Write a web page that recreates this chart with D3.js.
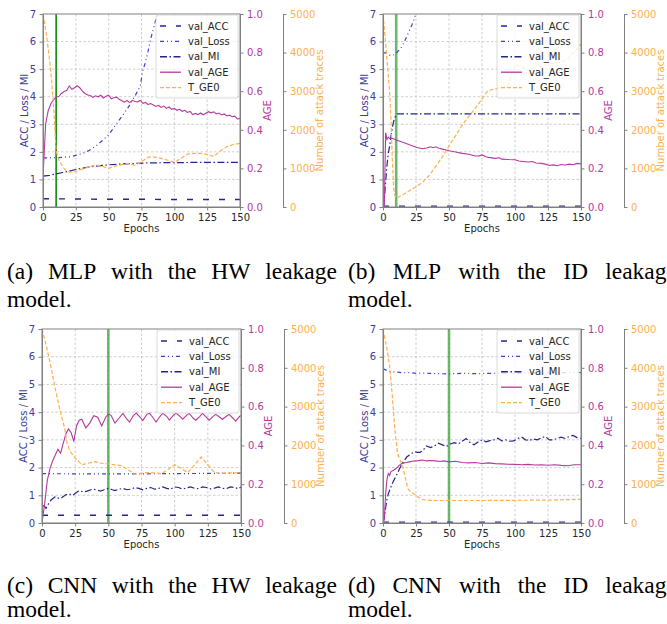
<!DOCTYPE html>
<html>
<head>
<meta charset="utf-8">
<script src="https://cdn.jsdelivr.net/npm/d3@7"></script>
<style>
  body { margin: 0; background: #fff; }
  svg { display: block; }
  .caption { font-family: "Liberation Serif", "Times New Roman", Times, serif; font-size: 23.5px; }
</style>
</head>
<body>
<div id="container"></div>
<script>
/**
 * CONSTANTS
 * */
const width = 667,
  height = 624;

// ticks and labels
const epochTicks = [0, 25, 50, 75, 100, 125, 150];
const leftTicks = [0, 1, 2, 3, 4, 5, 6, 7];
const ageTicks = [0, 0.2, 0.4, 0.6, 0.8, 1.0];
const traceTicks = [0, 1000, 2000, 3000, 4000, 5000];
const seriesNames = ["val_ACC", "val_Loss", "val_MI", "val_AGE", "T_GE0"];
const captionTexts = [
  ["(a) MLP with the HW leakage", "model."],
  ["(b) MLP with the ID leakage", "model."],
  ["(c) CNN with the HW leakage", "model."],
  ["(d) CNN with the ID leakage", "model."]
];
const bestEpochs = [10, 10, 50, 50];

/**
 * DATA  ([epoch, value])
 * */
// (a) MLP, HW
const mlpHwAcc = [[0, 0.3], [25, 0.29], [50, 0.28], [75, 0.28], [100, 0.27], [125, 0.27], [150, 0.27]];
const mlpHwLoss = [[0, 1.78], [5, 1.78], [10, 1.79], [15, 1.8], [20, 1.82], [25, 1.87], [30, 1.94], [35, 2.05], [40, 2.2], [45, 2.4], [50, 2.62], [55, 2.95], [60, 3.28], [65, 3.62], [70, 4.02], [74, 4.38], [76, 4.95], [78, 5.25], [80, 5.65], [82, 6.1], [84, 6.45], [86, 6.82], [88, 7.05], [90, 7.4]];
const mlpHwMi = [[0, 1.12], [5, 1.15], [10, 1.2], [15, 1.25], [20, 1.3], [25, 1.36], [30, 1.41], [35, 1.45], [40, 1.48], [50, 1.53], [60, 1.56], [70, 1.58], [80, 1.6], [100, 1.61], [125, 1.62], [150, 1.62]];
const mlpHwAge = [[0, 0.155], [2, 0.43], [4, 0.5], [6, 0.535], [8, 0.555], [10, 0.57], [12, 0.572], [14, 0.588], [16, 0.598], [18, 0.603], [20, 0.627], [22, 0.61], [24, 0.618], [26, 0.628], [28, 0.618], [30, 0.6], [32, 0.588], [34, 0.58], [36, 0.578], [38, 0.568], [40, 0.576], [42, 0.571], [44, 0.579], [46, 0.565], [48, 0.574], [50, 0.58], [52, 0.561], [54, 0.566], [56, 0.569], [58, 0.558], [60, 0.551], [62, 0.543], [64, 0.552], [66, 0.541], [68, 0.553], [70, 0.547], [72, 0.545], [74, 0.552], [76, 0.537], [78, 0.542], [80, 0.531], [82, 0.536], [84, 0.528], [86, 0.521], [88, 0.526], [90, 0.516], [92, 0.523], [94, 0.511], [96, 0.518], [98, 0.506], [100, 0.511], [102, 0.501], [104, 0.506], [106, 0.496], [108, 0.501], [110, 0.49], [112, 0.495], [114, 0.479], [116, 0.485], [118, 0.479], [120, 0.487], [122, 0.478], [124, 0.486], [126, 0.494], [128, 0.488], [130, 0.493], [132, 0.482], [134, 0.487], [136, 0.477], [138, 0.482], [140, 0.472], [142, 0.476], [144, 0.468], [146, 0.471], [148, 0.456], [150, 0.458]];
const mlpHwGe0 = [[0, 5000], [2, 4600], [4, 4100], [6, 3500], [8, 2650], [9, 2050], [10, 1450], [12, 1230], [15, 1040], [18, 930], [20, 900], [25, 920], [30, 980], [35, 1040], [40, 1080], [45, 1060], [50, 1000], [55, 1060], [60, 1100], [65, 1130], [70, 1080], [75, 1170], [80, 1290], [85, 1290], [90, 1260], [95, 1210], [100, 1160], [105, 1260], [110, 1370], [115, 1390], [120, 1390], [125, 1360], [130, 1310], [135, 1450], [140, 1560], [145, 1620], [150, 1650]];

// (b) MLP, ID
const mlpIdAcc = [[0, 0.03], [150, 0.03]];
const mlpIdLoss = [[0, 5.6], [3, 5.58], [6, 5.48], [8, 5.52], [10, 5.58], [12, 5.68], [14, 5.8], [16, 5.98], [18, 6.18], [20, 6.4], [22, 6.62], [24, 6.88], [26, 7.15]];
const mlpIdMi = [[0, 0], [1, 0.3], [2, 0.9], [3, 1.5], [4, 1.95], [5, 2.2], [6, 2.55], [7, 2.85], [8, 3.1], [9, 3.25], [10, 3.33], [11, 3.38], [50, 3.38], [100, 3.38], [150, 3.38]];
const mlpIdAge = [[0, 0], [1, 0.0], [2, 0.385], [3, 0.35], [4, 0.362], [5, 0.355], [7, 0.356], [10, 0.347], [15, 0.335], [20, 0.322], [25, 0.31], [30, 0.302], [33, 0.306], [36, 0.312], [38, 0.307], [40, 0.312], [42, 0.306], [45, 0.3], [50, 0.291], [55, 0.285], [60, 0.278], [65, 0.273], [70, 0.264], [73, 0.265], [75, 0.27], [78, 0.26], [80, 0.257], [85, 0.252], [88, 0.255], [90, 0.248], [95, 0.246], [100, 0.245], [103, 0.238], [106, 0.236], [110, 0.233], [113, 0.236], [116, 0.228], [120, 0.226], [123, 0.222], [126, 0.215], [129, 0.218], [132, 0.214], [135, 0.22], [138, 0.218], [141, 0.222], [144, 0.219], [147, 0.226], [150, 0.224]];
const mlpIdGe0 = [[0, 5000], [2, 4250], [4, 3400], [5, 3000], [6, 2300], [7, 1300], [8, 500], [9, 300], [10, 230], [12, 260], [15, 320], [20, 420], [25, 520], [30, 640], [35, 820], [40, 1050], [45, 1300], [50, 1580], [55, 1850], [60, 2120], [65, 2350], [70, 2560], [75, 2800], [78, 2950], [80, 3020], [85, 3060], [90, 3090], [95, 3160], [98, 3500], [100, 3680], [105, 3640], [110, 3540], [115, 3600], [120, 3650], [125, 3700], [130, 3730], [135, 3760], [140, 3840], [145, 4020], [150, 4220]];

// (c) CNN, HW
const cnnHwAcc = [[0, 0.28], [150, 0.28]];
const cnnHwLoss = [[0, 1.78], [50, 1.77], [100, 1.78], [150, 1.8]];
const cnnHwMi = [[0, 0.65], [2, 0.6], [3, 0.53], [5, 0.7], [7, 0.84], [10, 0.95], [13, 0.88], [15, 0.92], [18, 1.02], [20, 1.06], [23, 1.0], [26, 1.1], [28, 1.17], [31, 1.12], [34, 1.15], [38, 1.22], [41, 1.2], [44, 1.15], [47, 1.2], [50, 1.25], [53, 1.2], [55, 1.17], [58, 1.22], [61, 1.25], [64, 1.2], [67, 1.22], [70, 1.28], [73, 1.25], [76, 1.2], [79, 1.25], [82, 1.28], [85, 1.22], [88, 1.25], [91, 1.3], [94, 1.25], [97, 1.22], [100, 1.3], [103, 1.28], [106, 1.22], [109, 1.27], [112, 1.3], [115, 1.25], [118, 1.24], [121, 1.3], [124, 1.28], [127, 1.23], [130, 1.26], [133, 1.3], [136, 1.25], [139, 1.24], [142, 1.3], [145, 1.28], [148, 1.24], [150, 1.3]];
const cnnHwAge = [[0, 0], [2, 0.1], [4, 0.22], [6, 0.28], [8, 0.32], [10, 0.35], [12, 0.38], [14, 0.36], [16, 0.41], [18, 0.46], [20, 0.485], [22, 0.465], [24, 0.42], [26, 0.5], [28, 0.53], [30, 0.535], [33, 0.49], [36, 0.515], [39, 0.553], [42, 0.545], [45, 0.5], [48, 0.545], [50, 0.562], [52, 0.555], [55, 0.515], [58, 0.54], [61, 0.565], [64, 0.535], [66, 0.52], [69, 0.555], [71, 0.567], [74, 0.545], [76, 0.528], [79, 0.56], [81, 0.566], [84, 0.54], [86, 0.52], [89, 0.55], [91, 0.566], [94, 0.55], [96, 0.53], [99, 0.555], [101, 0.567], [104, 0.55], [106, 0.535], [109, 0.555], [111, 0.565], [114, 0.54], [116, 0.53], [119, 0.55], [121, 0.565], [124, 0.545], [126, 0.53], [129, 0.55], [131, 0.56], [134, 0.545], [136, 0.535], [139, 0.55], [141, 0.56], [144, 0.54], [146, 0.525], [149, 0.55], [150, 0.553]];
const cnnHwGe0 = [[0, 5000], [3, 4600], [6, 4150], [10, 3450], [14, 2850], [17, 2450], [19, 2050], [21, 1850], [25, 1680], [30, 1500], [35, 1540], [40, 1580], [45, 1540], [50, 1520], [55, 1500], [60, 1480], [65, 1370], [70, 1260], [75, 1280], [80, 1300], [85, 1290], [90, 1270], [95, 1380], [100, 1500], [105, 1400], [110, 1300], [115, 1500], [120, 1700], [125, 1500], [130, 1300], [135, 1280], [140, 1290], [145, 1290], [150, 1290]];

// (d) CNN, ID
const cnnIdAcc = [[0, 0.03], [150, 0.03]];
const cnnIdLoss = [[0, 5.57], [3, 5.5], [6, 5.45], [10, 5.45], [15, 5.42], [20, 5.43], [25, 5.4], [30, 5.41], [40, 5.39], [50, 5.38], [60, 5.4], [70, 5.39], [80, 5.4], [90, 5.41], [100, 5.4], [110, 5.42], [120, 5.41], [130, 5.42], [140, 5.43], [150, 5.43]];
const cnnIdMi = [[0, 0], [1, 0.2], [2, 0.55], [3, 0.85], [4, 1.05], [6, 1.3], [8, 1.52], [10, 1.7], [12, 1.9], [14, 2.1], [16, 2.25], [18, 2.38], [20, 2.45], [22, 2.52], [24, 2.57], [26, 2.55], [28, 2.55], [30, 2.6], [33, 2.78], [36, 2.72], [39, 2.78], [42, 2.88], [45, 2.82], [48, 2.76], [51, 2.85], [54, 2.9], [57, 2.85], [60, 2.95], [63, 3.05], [66, 2.9], [69, 2.82], [72, 2.92], [75, 3.0], [78, 2.93], [81, 2.97], [84, 3.0], [87, 3.06], [90, 2.96], [93, 3.0], [96, 2.95], [99, 2.96], [102, 3.05], [105, 3.1], [108, 3.0], [111, 2.98], [114, 3.03], [117, 3.0], [120, 3.08], [123, 3.12], [126, 3.0], [129, 3.0], [132, 3.05], [135, 3.1], [138, 3.05], [141, 3.12], [144, 3.16], [147, 3.08], [150, 3.05]];
const cnnIdAge = [[0, 0], [1, 0.02], [2, 0.15], [3, 0.225], [4, 0.255], [5, 0.245], [6, 0.265], [8, 0.272], [10, 0.282], [12, 0.296], [14, 0.305], [16, 0.31], [18, 0.312], [20, 0.315], [22, 0.318], [25, 0.32], [28, 0.323], [30, 0.325], [33, 0.32], [36, 0.322], [40, 0.32], [43, 0.317], [46, 0.32], [50, 0.315], [55, 0.318], [60, 0.312], [65, 0.31], [70, 0.312], [75, 0.307], [80, 0.31], [85, 0.306], [90, 0.305], [95, 0.303], [100, 0.302], [105, 0.3], [110, 0.302], [115, 0.299], [120, 0.3], [125, 0.298], [130, 0.3], [135, 0.297], [140, 0.295], [145, 0.3], [150, 0.3]];
const cnnIdGe0 = [[0, 5000], [3, 4500], [5, 4050], [7, 3300], [9, 2400], [11, 1800], [13, 1620], [15, 1450], [17, 1150], [19, 880], [21, 800], [24, 740], [27, 660], [30, 600], [35, 585], [40, 580], [50, 580], [75, 580], [100, 585], [125, 590], [150, 610]];

/**
 * STYLES
 * */
const fontSans = "DejaVu Sans";
const spineColor = "#808080";
const leftColor = "#3b3b9c";
const ageColor = "#b4399f";
const traceColor = "#ffaf4c";
const styles = {
  val_ACC: { color: "#24248e", dash: "6,10", width: 1.4, axis: "left" },
  val_Loss: { color: "#4040c8", dash: "4,3,1,3,1,3", width: 1.2, axis: "left" },
  val_MI: { color: "#25258f", dash: "7,2.5,1.5,2.5", width: 1.2, axis: "left" },
  val_AGE: { color: ageColor, dash: null, width: 1.1, axis: "age" },
  T_GE0: { color: traceColor, dash: "4,2", width: 1.2, axis: "traces" }
};

// panel frames (layout only)
const panels = [
  { key: "a", x0: 43, x1: 240, y0: 14, y1: 207, capX: [7, 337], capY: [279, 307], strong: true,
    series: [mlpHwAcc, mlpHwLoss, mlpHwMi, mlpHwAge, mlpHwGe0] },
  { key: "b", x0: 383, x1: 581, y0: 14, y1: 207, capX: [348, 677], capY: [279, 307], strong: false,
    series: [mlpIdAcc, mlpIdLoss, mlpIdMi, mlpIdAge, mlpIdGe0] },
  { key: "c", x0: 42, x1: 241, y0: 329, y1: 523, capX: [7, 337], capY: [593, 617], strong: false,
    series: [cnnHwAcc, cnnHwLoss, cnnHwMi, cnnHwAge, cnnHwGe0] },
  { key: "d", x0: 383, x1: 581, y0: 329, y1: 523, capX: [348, 677], capY: [593, 617], strong: false,
    series: [cnnIdAcc, cnnIdLoss, cnnIdMi, cnnIdAge, cnnIdGe0] }
];

const svg = d3.select("#container")
  .append("svg")
  .attr("width", width)
  .attr("height", height);

panels.forEach((p, i) => drawPanel(p, i));

function styleAxis(sel, color) {
  sel.attr("font-family", fontSans).attr("font-size", 10);
  sel.select(".domain").attr("stroke", spineColor);
  sel.selectAll(".tick line").attr("stroke", spineColor);
  sel.selectAll(".tick text").attr("fill", color);
}

function drawPanel(p, i) {
  const g = svg.append("g");
  const x = d3.scaleLinear().domain([0, 150]).range([p.x0, p.x1]);
  const scales = {
    left: d3.scaleLinear().domain([0, 7]).range([p.y1, p.y0]),
    age: d3.scaleLinear().domain([0, 1]).range([p.y1, p.y0]),
    traces: d3.scaleLinear().domain([0, 5000]).range([p.y1, p.y0])
  };

  // grid
  g.append("g").selectAll("line").data(epochTicks.slice(1, -1)).join("line")
    .attr("x1", d => x(d)).attr("x2", d => x(d))
    .attr("y1", p.y0).attr("y2", p.y1);
  g.append("g").selectAll("line").data(leftTicks.slice(1, -1)).join("line")
    .attr("x1", p.x0).attr("x2", p.x1)
    .attr("y1", d => scales.left(d)).attr("y2", d => scales.left(d));
  g.selectAll("g line")
    .attr("stroke", "#b8b8b8").attr("stroke-width", 0.7).attr("stroke-dasharray", "2.5,2");

  // clip
  const clipId = "clip-" + p.key;
  g.append("clipPath").attr("id", clipId)
    .append("rect")
    .attr("x", p.x0).attr("y", p.y0)
    .attr("width", p.x1 - p.x0).attr("height", p.y1 - p.y0);

  const lines = g.append("g").attr("clip-path", `url(#${clipId})`);

  // best epoch marker
  lines.append("line")
    .attr("x1", x(bestEpochs[i])).attr("x2", x(bestEpochs[i]))
    .attr("y1", p.y0).attr("y2", p.y1)
    .attr("stroke", p.strong ? "#008000" : "#2e9a2e")
    .attr("stroke-opacity", p.strong ? 1 : 0.7)
    .attr("stroke-width", p.strong ? 1.5 : 2.6);

  seriesNames.forEach((name, k) => {
    const st = styles[name];
    const y = scales[st.axis];
    const line = d3.line().x(d => x(d[0])).y(d => y(d[1]));
    lines.append("path")
      .datum(p.series[k])
      .attr("d", line)
      .attr("fill", "none")
      .attr("stroke", st.color)
      .attr("stroke-width", st.width)
      .attr("stroke-dasharray", st.dash);
  });

  // spines
  g.append("rect")
    .attr("x", p.x0).attr("y", p.y0)
    .attr("width", p.x1 - p.x0).attr("height", p.y1 - p.y0)
    .attr("fill", "none").attr("stroke", spineColor).attr("stroke-width", 1);

  // axes
  g.append("g").attr("transform", `translate(${p.x0},0)`)
    .call(d3.axisLeft(scales.left).tickValues(leftTicks).tickFormat(d3.format("d"))
      .tickSize(3.5).tickPadding(3.5).tickSizeOuter(0))
    .call(s => styleAxis(s, leftColor));
  g.append("g").attr("transform", `translate(0,${p.y1})`)
    .call(d3.axisBottom(x).tickValues(epochTicks).tickFormat(d3.format("d"))
      .tickSize(3.5).tickPadding(3.5).tickSizeOuter(0))
    .call(s => styleAxis(s, "#262626"));
  g.append("g").attr("transform", `translate(${p.x1},0)`)
    .call(d3.axisRight(scales.age).tickValues(ageTicks).tickFormat(d3.format(".1f"))
      .tickSize(3.5).tickPadding(3.5).tickSizeOuter(0))
    .call(s => styleAxis(s, ageColor));
  g.append("g").attr("transform", `translate(${p.x1 + 43},0)`)
    .call(d3.axisRight(scales.traces).tickValues(traceTicks).tickFormat(d3.format("d"))
      .tickSize(3.5).tickPadding(3.5).tickSizeOuter(0))
    .call(s => styleAxis(s, traceColor));

  // axis labels
  const cy = (p.y0 + p.y1) / 2;
  const label = (tx, txt, color) => g.append("text")
    .attr("transform", `translate(${tx},${cy}) rotate(-90)`)
    .attr("text-anchor", "middle").attr("dy", "0.35em")
    .attr("font-family", fontSans).attr("font-size", 10)
    .attr("fill", color).text(txt);
  label(p.x0 - 19, "ACC / Loss / MI", leftColor);
  label(p.x1 + 27, "AGE", ageColor);
  label(p.x1 + 79, "Number of attack traces", traceColor);

  g.append("text")
    .attr("x", (p.x0 + p.x1) / 2).attr("y", p.y1 + 25)
    .attr("text-anchor", "middle")
    .attr("font-family", fontSans).attr("font-size", 10)
    .attr("fill", "#262626").text("Epochs");

  // legend
  const lw = 82, lh = 83;
  const lx = p.x1 - lw - 2, ly = p.y0 + 1;
  const leg = g.append("g");
  leg.append("rect")
    .attr("x", lx).attr("y", ly).attr("width", lw).attr("height", lh)
    .attr("rx", 2).attr("fill", "#fff").attr("fill-opacity", 0.8)
    .attr("stroke", "#d0d0d0").attr("stroke-width", 0.8);
  const rows = leg.selectAll("g.row").data(seriesNames).join("g")
    .attr("class", "row")
    .attr("transform", (d, k) => `translate(${lx},${ly + 11 + k * 15.4})`);
  rows.append("line")
    .attr("x1", 4).attr("x2", 25)
    .attr("stroke", d => styles[d].color)
    .attr("stroke-width", d => styles[d].width + 0.2)
    .attr("stroke-dasharray", d => styles[d].dash);
  rows.append("text")
    .attr("x", 32).attr("dy", "0.35em")
    .attr("font-family", fontSans).attr("font-size", 10)
    .attr("fill", "#262626").text(d => d);

  // caption (justified first line, the right column runs past the page edge)
  const cap = captionTexts[i];
  const words = cap[0].split(" ");
  const wordSel = svg.append("g").selectAll("text").data(words).join("text")
    .attr("class", "caption")
    .attr("y", p.capY[0])
    .attr("fill", "#000").text(d => d);
  const widths = wordSel.nodes().map(n => n.getComputedTextLength());
  const gap = (p.capX[1] - p.capX[0] - d3.sum(widths)) / (words.length - 1);
  let cx = p.capX[0];
  wordSel.attr("x", (d, k) => {
    const pos = cx;
    cx += widths[k] + gap;
    return pos;
  });
  svg.append("text")
    .attr("class", "caption")
    .attr("x", p.capX[0]).attr("y", p.capY[1])
    .attr("fill", "#000").text(cap[1]);
}
</script>
</body>
</html>
